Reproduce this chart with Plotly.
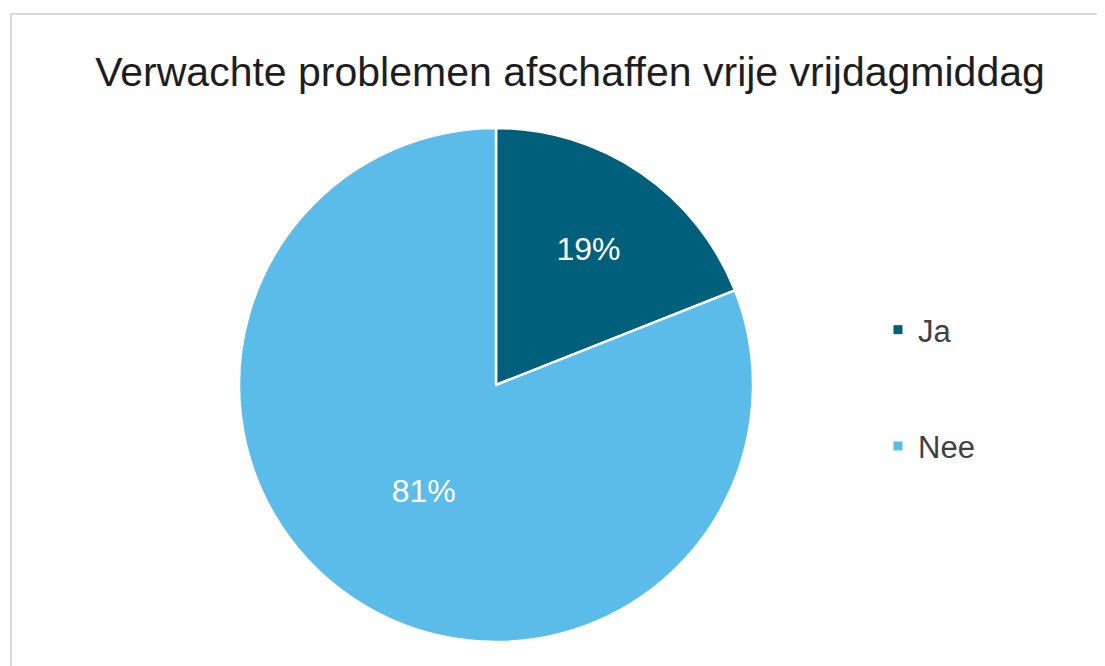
import plotly.graph_objects as go

labels = ["Ja", "Nee"]
values = [19, 81]
colors = ["#005F7A", "#5BBBE9"]
title_text = "Verwachte problemen afschaffen vrije vrijdagmiddag"

W, H = 1105, 666
OFF = 8  # page body margin offset

def px_x(x):
    return (x - OFF) / W

def px_y(y):
    return 1 - (y - OFF) / H

fig = go.Figure()

fig.add_trace(go.Pie(
    labels=labels,
    values=values,
    sort=False,
    direction="clockwise",
    rotation=0,
    marker=dict(colors=colors, line=dict(color="white", width=2.5)),
    texttemplate="%{value}%",
    textposition="inside",
    insidetextorientation="horizontal",
    textfont=dict(family="Liberation Sans, Arial, sans-serif", size=32, color="white"),
    showlegend=False,
    hoverinfo="label+percent",
    domain=dict(x=[px_x(239), px_x(753)], y=[px_y(642), px_y(128)]),
))

for lab, col in zip(labels, colors):
    fig.add_trace(go.Scatter(
        x=[None], y=[None], mode="markers", name=lab,
        legendgroup=lab,
        marker=dict(symbol="square", size=9, color=col),
    ))

fig.update_layout(
    width=W, height=H,
    margin=dict(l=0, r=0, t=0, b=0),
    paper_bgcolor="white",
    plot_bgcolor="white",
    xaxis=dict(visible=False),
    yaxis=dict(visible=False),
    title=dict(
        text=title_text,
        x=px_x(570), xanchor="center",
        y=px_y(72), yanchor="middle",
        font=dict(family="Liberation Sans, Arial, sans-serif", size=41, color="#1e1e1e"),
    ),
    legend=dict(
        x=px_x(878), xanchor="left",
        y=px_y(388), yanchor="middle",
        traceorder="grouped",
        tracegroupgap=73,
        font=dict(family="Liberation Sans, Arial, sans-serif", size=31, color="#404040"),
        bgcolor="rgba(0,0,0,0)",
        itemclick=False,
    ),
    shapes=[dict(
        type="rect", xref="paper", yref="paper",
        x0=px_x(11), x1=1.05, y0=-0.05, y1=px_y(14),
        line=dict(color="#d9d9d9", width=2),
        fillcolor="rgba(0,0,0,0)",
        layer="below",
    )],
)

fig.write_html("out.html")
